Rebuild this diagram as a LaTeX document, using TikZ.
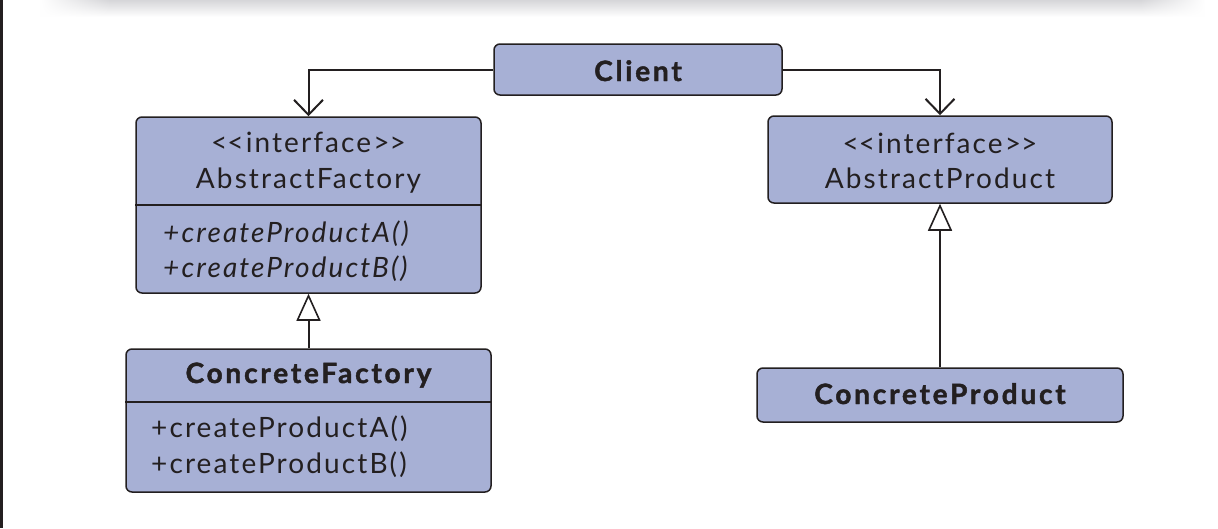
\documentclass[tikz,border=0pt]{standalone}
\usepackage{fontspec}
\setmainfont{Lato}[LetterSpace=7.5]
\newfontfamily\heavyfont{Lato}[LetterSpace=10, FakeBold=1.6, BoldFont={Lato Bold}]
\usetikzlibrary{arrows.meta,fadings}
\definecolor{boxfill}{RGB}{167,176,213}
\definecolor{ink}{RGB}{35,31,32}
\definecolor{shadowgrey}{RGB}{214,214,217}
\begin{document}
\begin{tikzpicture}[x=1pt,y=-1pt,
  cls/.style={draw=ink, fill=boxfill, rounded corners=6pt, line width=1.5pt, inner sep=0pt},
  lbl/.style={text=ink, inner sep=0pt, anchor=base, font=\fontsize{28}{32}\selectfont},
  hdr/.style={lbl, font=\fontsize{28}{32}\heavyfont\bfseries},
  op/.style={lbl, anchor=base west},
  opi/.style={op, font=\fontsize{28}{32}\selectfont\itshape},
  divider/.style={draw=ink, line width=1.5pt},
  assoc/.style={draw=ink, line width=2pt, -{Straight Barb[length=15pt, width=29pt]}},
  inherit/.style={draw=ink, line width=2pt, -{Triangle[fill=white, length=27pt, width=24pt, line width=1.6pt]}},
  topshade/.style={top color=shadowgrey, bottom color=white, draw=none}
]
\useasboundingbox (0,0) rectangle (1218,528);
\fill[white] (0,0) rectangle (1218,528);
% soft shadow cast by the header bar above the page
\shade[topshade] (110,0) rectangle (1140,17);
\shade[topshade, path fading=west] (40,0) rectangle (110.5,17);
\shade[topshade, path fading=east] (1139.5,0) rectangle (1205,17);
% dark left page edge
\fill[ink] (0,0) rectangle (3,528);

% classes
\node[cls, minimum width=288pt, minimum height=51pt] (client) at (638,69.5) {};
\node[hdr] (clientname) at (638,81) {Client};

\node[cls, minimum width=345pt, minimum height=176pt] (af) at (308.5,205) {};
\draw[divider] (af.west |- 0,205) -- (af.east |- 0,205);
\node[lbl] (afster) at (308.5,152) {<\kern0pt<interface>\kern0pt>};
\node[lbl] (afname) at (308.5,188) {AbstractFactory};
\node[opi] (afopa) at (163,242) {+createProductA()};
\node[opi] (afopb) at (163,277) {+createProductB()};

\node[cls, minimum width=344pt, minimum height=87pt] (ap) at (940,159.5) {};
\node[lbl] (apster) at (940,153) {<\kern0pt<interface>\kern0pt>};
\node[lbl] (apname) at (940,188) {AbstractProduct};

\node[cls, minimum width=365pt, minimum height=143pt] (cf) at (308.5,420.5) {};
\draw[divider] (cf.west |- 0,402) -- (cf.east |- 0,402);
\node[hdr] (cfname) at (308.5,383) {ConcreteFactory};
\node[op] (cfopa) at (151,437) {+createProductA()};
\node[op] (cfopb) at (151,473) {+createProductB()};

\node[cls, minimum width=366pt, minimum height=54pt] (cp) at (940,395) {};
\node[hdr] (cpname) at (940,404) {ConcreteProduct};

% relations
\draw[assoc] (client.west) -| (af.north);
\draw[assoc] (client.east) -| (ap.north);
\draw[inherit] (cf.north) -- (af.south);
\draw[inherit] (cp.north) -- (ap.south);
\end{tikzpicture}
\end{document}
